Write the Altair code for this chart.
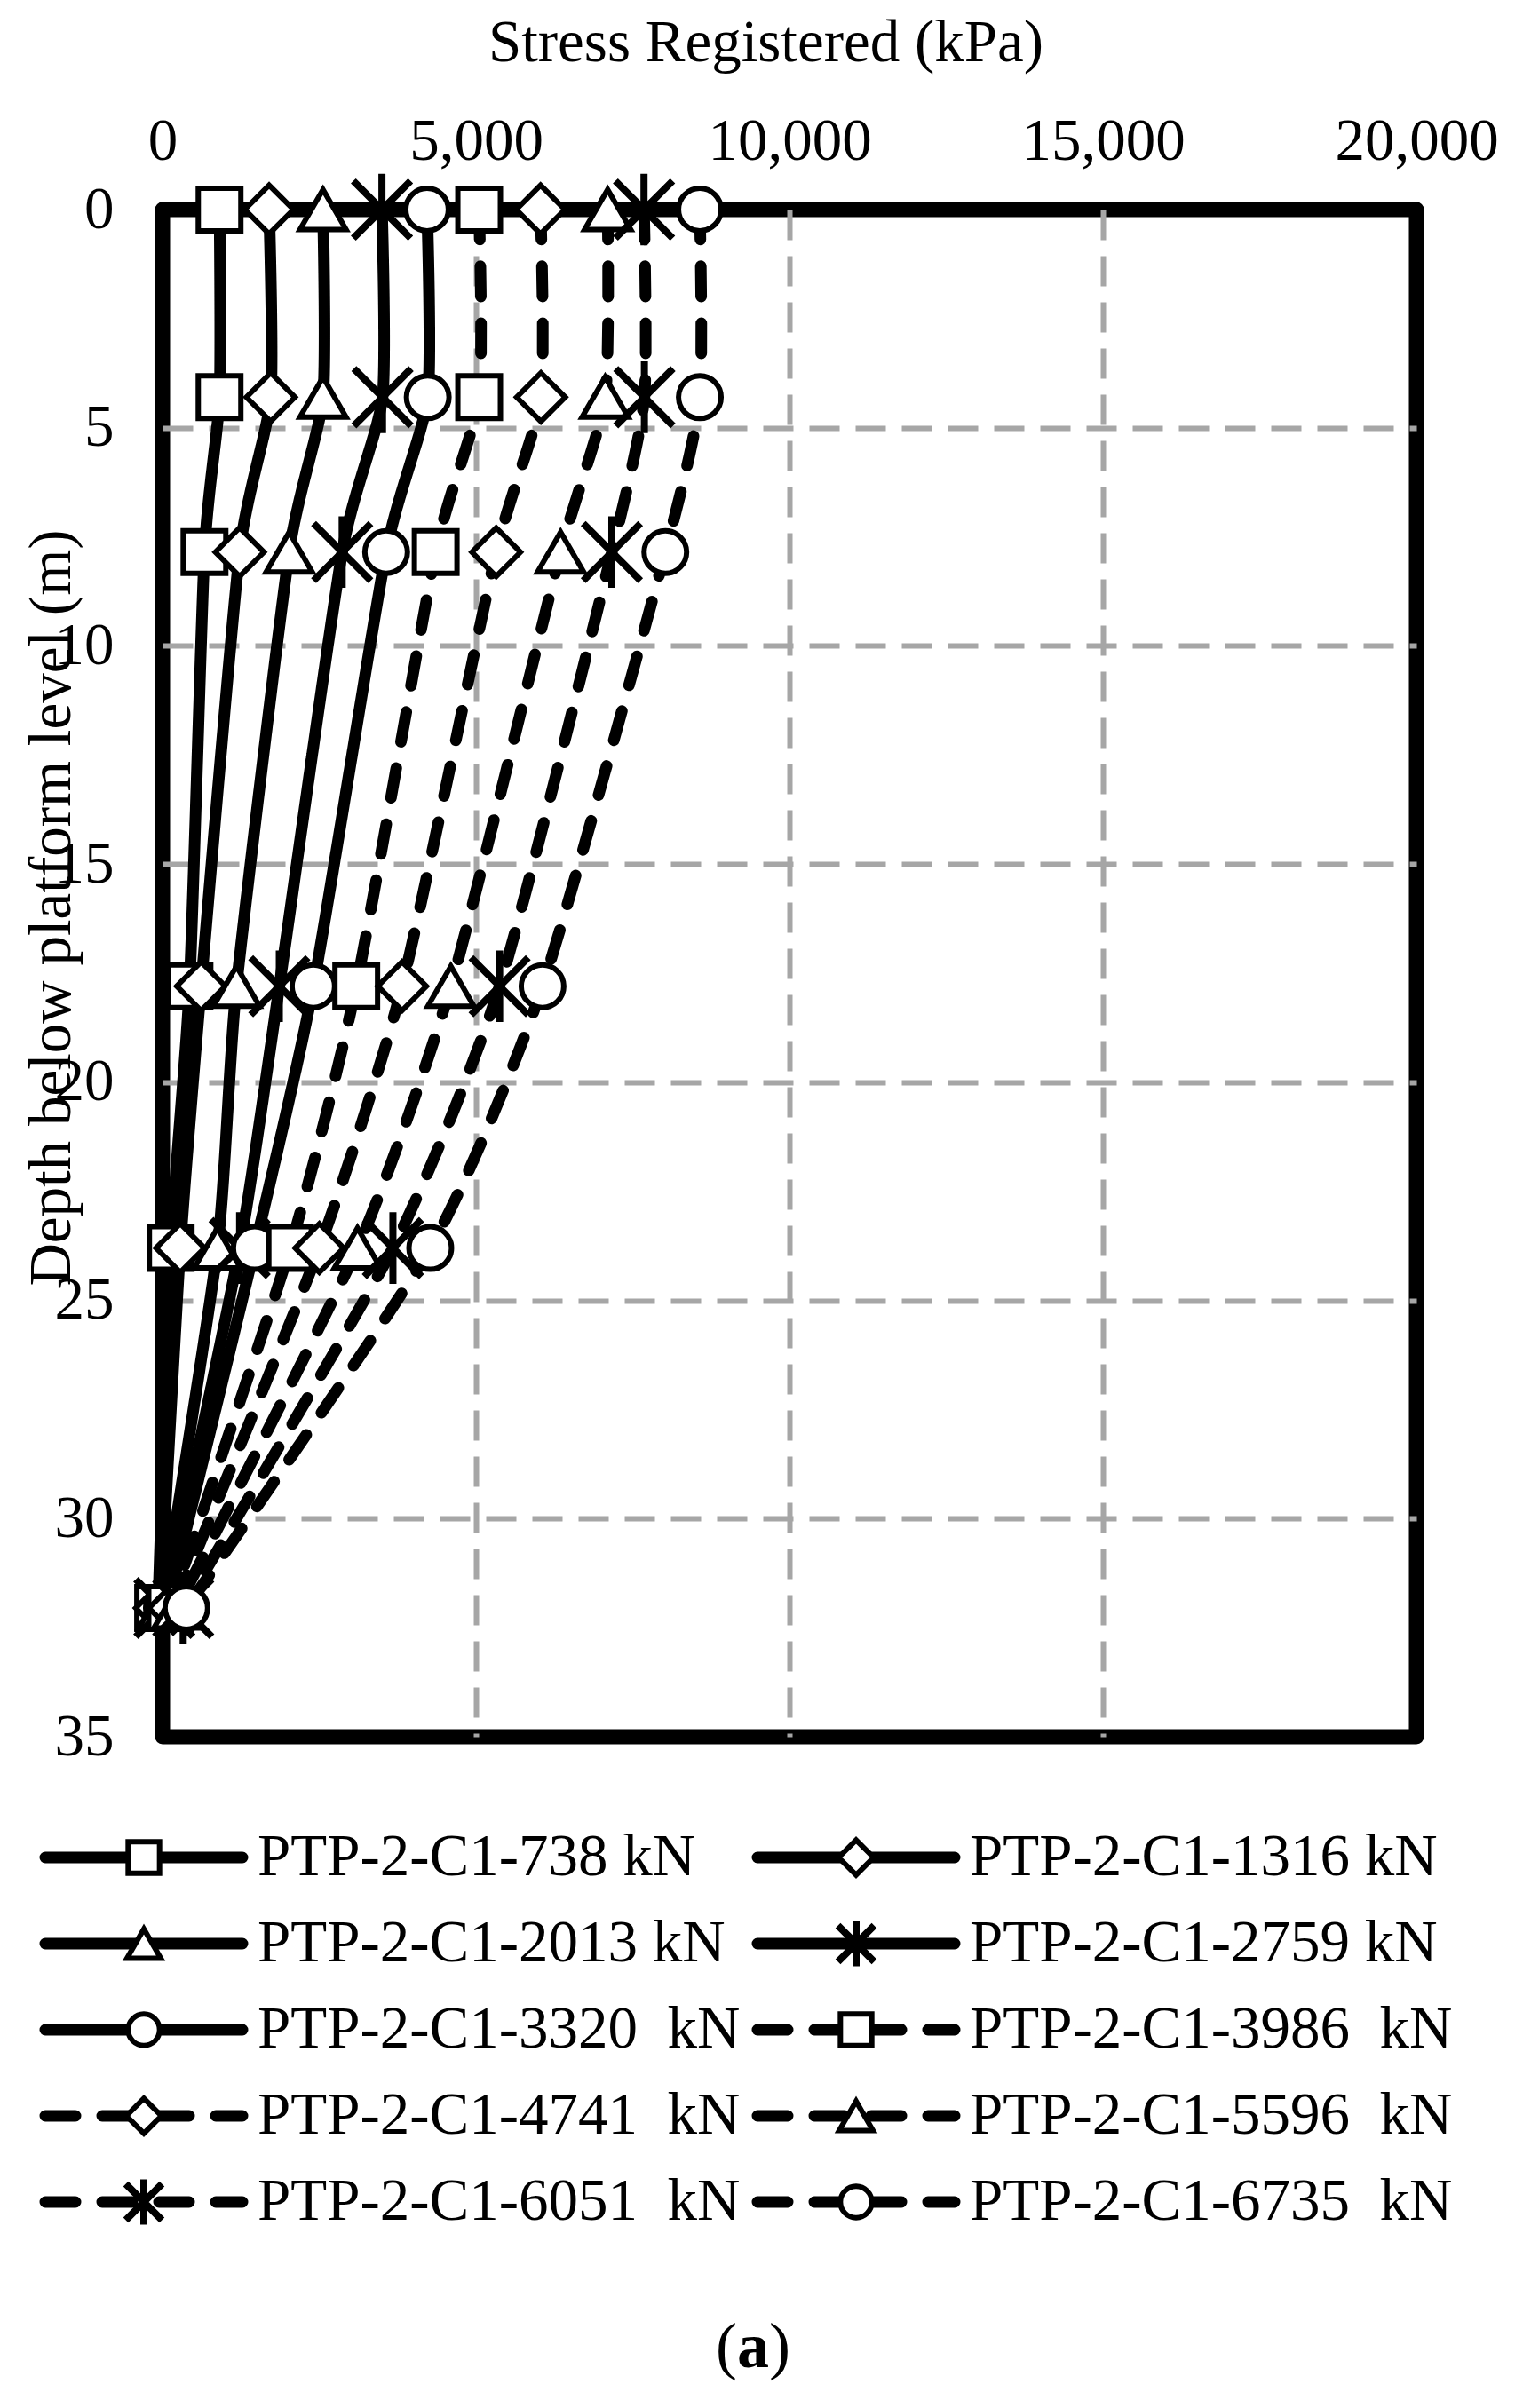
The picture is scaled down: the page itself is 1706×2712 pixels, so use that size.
import altair as alt
import pandas as pd

# ---------------- data ----------------
depths = [0, 4.3, 7.85, 17.8, 23.8, 32.05]
loads = ["738", "1316", "2013", "2759", "3320", "3986", "4741", "5596", "6051", "6735"]
labels = [
    "PTP-2-C1-738 kN", "PTP-2-C1-1316 kN", "PTP-2-C1-2013 kN", "PTP-2-C1-2759 kN",
    "PTP-2-C1-3320\u00a0 kN", "PTP-2-C1-3986\u00a0 kN", "PTP-2-C1-4741\u00a0 kN",
    "PTP-2-C1-5596\u00a0 kN", "PTP-2-C1-6051\u00a0 kN", "PTP-2-C1-6735\u00a0 kN",
]
styles = ["solid"] * 5 + ["dash"] * 5
s738 = [910, 910, 670, 430, 130, -70]
s1316 = [1700, 1725, 1230, 615, 283, -40]
s2013 = [2560, 2560, 2020, 1180, 876, -10]
s2759 = [3500, 3509, 2866, 1863, 1230, 30]
s3320 = [4220, 4230, 3567, 2406, 1470, 70]
s3986 = [5050, 5050, 4357, 3090, 2035, 120]
s4741 = [6030, 6036, 5322, 3821, 2502, 170]
s5596 = [7100, 7060, 6350, 4599, 3110, 230]
s6051 = [7680, 7686, 7167, 5377, 3675, 330]
s6735 = [8570, 8570, 8020, 6061, 4270, 380]
series = [s738, s1316, s2013, s2759, s3320, s3986, s4741, s5596, s6051, s6735]

x_ticks = [0, 5000, 10000, 15000, 20000]
y_ticks = [0, 5, 10, 15, 20, 25, 30, 35]

rows = []
for i, (ld, vals) in enumerate(zip(loads, series)):
    for d, v in zip(depths, vals):
        rows.append({"load": ld, "idx": i, "depth": d, "stress": v, "style": styles[i]})
df = pd.DataFrame(rows)

leg = pd.DataFrame({"load": loads, "label": labels, "style": styles,
                    "idx": list(range(len(loads)))})

ASTER = "M0,-1L0,1M-0.8,-0.8L0.8,0.8M-0.8,0.8L0.8,-0.8"
shape_range = ["square", "diamond", "triangle-up", ASTER, "circle"] * 2
FONT = "Liberation Serif"
FS = 67

W, H = 1412, 1720

xs = alt.Scale(domain=[0, 20000], nice=False)
ys = alt.Scale(domain=[0, 35], reverse=True, nice=False)
dash_scale = alt.Scale(domain=["solid", "dash"], range=[[1, 0], [34, 30]])
shape_scale = alt.Scale(domain=loads, range=shape_range)
size_scale = alt.Scale(type="ordinal", domain=loads,
                       range=[2300, 3000, 2700, 6500, 2300] * 2)
sw_scale = alt.Scale(type="ordinal", domain=loads, range=[6, 6, 6, 8, 6] * 2)
leg_size_scale = alt.Scale(type="ordinal", domain=loads,
                           range=[1250, 1550, 1450, 2600, 1250] * 2)

x_axis = alt.Axis(orient="top", values=x_ticks, format=",.0f", ticks=False, domain=False,
                  labelPadding=43, labelFlush=False, labelOverlap=False, labelLimit=0,
                  gridOpacity={"condition": {"test": "datum.value === 0 || datum.value === 20000",
                                             "value": 0}, "value": 1},
                  title="Stress Registered (kPa)", titleX=679, titleY=-168,
                  titleAlign="center", titleBaseline="alphabetic")
y_axis = alt.Axis(values=y_ticks, ticks=False, domain=False, labelPadding=55,
                  labelOverlap=False, labelFlush=False, labelLimit=0,
                  gridOpacity={"condition": {"test": "datum.value === 0 || datum.value === 35",
                                             "value": 0}, "value": 1},
                  title="Depth below platform level (m)", titleAngle=270,
                  titleX=-105, titleY=786, titleAlign="center",
                  titleBaseline="alphabetic")

base = alt.Chart(df)
lines = base.mark_line(color="black", strokeWidth=13, interpolate="cardinal", tension=0.4,
                       strokeCap="round", strokeJoin="round").encode(
    x=alt.X("stress:Q", scale=xs, axis=x_axis),
    y=alt.Y("depth:Q", scale=ys, axis=y_axis),
    detail="load:N",
    order=alt.Order("depth:Q"),
    strokeDash=alt.StrokeDash("style:N", scale=dash_scale, legend=None),
)
points = base.mark_point(filled=True, fill="white", stroke="black", opacity=1).encode(
    x=alt.X("stress:Q", scale=xs),
    y=alt.Y("depth:Q", scale=ys),
    shape=alt.Shape("load:N", scale=shape_scale, legend=None),
    size=alt.Size("load:N", scale=size_scale, legend=None),
    strokeWidth=alt.StrokeWidth("load:N", scale=sw_scale, legend=None),
    order=alt.Order("idx:Q"),
)

# ---------------- manual legend (below the plot) ----------------
lbase = alt.Chart(leg).transform_calculate(
    col="datum.idx % 2", row="floor(datum.idx / 2)"
).transform_calculate(
    lx1="-132 + datum.col * 802", ly=f"{H} + 136 + datum.row * 97"
).transform_calculate(
    lx2="datum.lx1 + 222", lxm="datum.lx1 + 111", ltx="datum.lx1 + 239"
)
leg_lines = lbase.mark_rule(color="black", strokeWidth=13, strokeCap="round").encode(
    x=alt.X("lx1:Q", scale=None), x2="lx2:Q",
    y=alt.Y("ly:Q", scale=None),
    strokeDash=alt.StrokeDash("style:N", scale=dash_scale, legend=None),
)
leg_pts = lbase.mark_point(filled=True, fill="white", stroke="black", opacity=1).encode(
    x=alt.X("lxm:Q", scale=None), y=alt.Y("ly:Q", scale=None),
    shape=alt.Shape("load:N", scale=shape_scale, legend=None),
    size=alt.Size("load:N", scale=leg_size_scale, legend=None),
    strokeWidth=alt.StrokeWidth("load:N", scale=sw_scale, legend=None),
)
leg_txt = lbase.mark_text(align="left", baseline="middle", font=FONT, fontSize=FS,
                          color="black").encode(
    x=alt.X("ltx:Q", scale=None), y=alt.Y("ly:Q", scale=None), text="label:N",
)

# ---------------- panel tag "(a)" ----------------
tag = pd.DataFrame({"t": ["(", ")"], "dx": [-30, 30]})
tag_par = alt.Chart(tag).transform_calculate(
    px="665 + datum.dx", py=f"{H} + 688"
).mark_text(baseline="middle", align="center", font=FONT, fontSize=72,
            color="black").encode(
    x=alt.X("px:Q", scale=None), y=alt.Y("py:Q", scale=None), text="t:N",
)
tag_a = alt.Chart(pd.DataFrame({"t": ["a"]})).transform_calculate(
    px="665", py=f"{H} + 688"
).mark_text(baseline="middle", align="center", font=FONT, fontSize=72,
            fontWeight="bold", color="black").encode(
    x=alt.X("px:Q", scale=None), y=alt.Y("py:Q", scale=None), text="t:N",
)

chart = alt.layer(lines, points, leg_lines, leg_pts, leg_txt, tag_par, tag_a).resolve_scale(
    size="independent"
).properties(
    width=W, height=H,
    autosize=alt.AutoSizeParams(type="none"),
    padding={"left": 175, "top": 228, "right": 100, "bottom": 740},
).configure_view(
    stroke="black", strokeWidth=17, strokeJoin="round"
).configure_axis(
    labelFont=FONT, labelFontSize=FS, labelColor="black",
    titleFont=FONT, titleFontSize=FS, titleColor="black", titleFontWeight="normal",
    gridColor="#a6a6a6", gridDash=[34, 18], gridWidth=6, grid=True,
)

chart.save("out.html", embed_options={"renderer": "svg", "actions": False})
